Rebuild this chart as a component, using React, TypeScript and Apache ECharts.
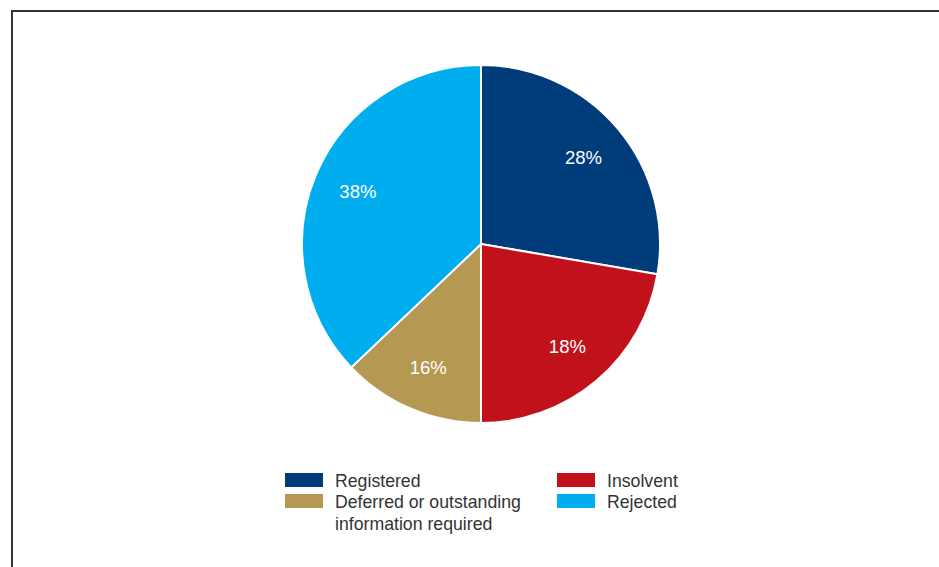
import React, { useEffect, useRef } from "react";
import * as echarts from "echarts";

const categories = ["Registered", "Insolvent", "Deferred or outstanding information required", "Rejected"];
const legendTexts = ["Registered", "Insolvent", "Deferred or outstanding\ninformation required", "Rejected"];
const sliceValues = [27.7, 22.3, 12.9, 37.1];
const labelTexts = ["28%", "18%", "16%", "38%"];
const colors = ["#003b7a", "#c1121c", "#b59953", "#00adee"];

export default function App() {
  const ref = useRef<HTMLDivElement>(null);
  useEffect(() => {
    if (!ref.current) return;
    const chart = echarts.init(ref.current, null, { renderer: "svg" });
    const font = "'Liberation Sans', Arial, sans-serif";
    const legendPos = [
      { x: 285, y: 473 },
      { x: 557, y: 473 },
      { x: 285, y: 494 },
      { x: 557, y: 494 },
    ];
    const graphic: any[] = [
      {
        type: "polyline",
        shape: { points: [[12, 580], [12, 11], [960, 11]] },
        style: { stroke: "#333", lineWidth: 2, fill: null },
      },
    ];
    categories.forEach((c, i) => {
      const p = legendPos[i];
      graphic.push({
        type: "rect",
        shape: { x: p.x, y: p.y, width: 38, height: 14 },
        style: { fill: colors[i] },
      });
      graphic.push({
        type: "text",
        x: p.x + 50,
        y: p.y - 3,
        style: {
          text: legendTexts[i],
          fill: "#333",
          font: `17.7px ${font}`,
          lineHeight: 22,
          textVerticalAlign: "top",
        },
      });
    });
    chart.setOption({
      animation: false,
      backgroundColor: "#fff",
      graphic,
      series: [
        {
          type: "pie",
          center: [481, 244],
          radius: [0, 179],
          startAngle: 90,
          clockwise: true,
          silent: true,
          label: { show: false },
          labelLine: { show: false },
          itemStyle: { borderColor: "#fff", borderWidth: 2 },
          data: categories.map((c, i) => ({
            name: c,
            value: sliceValues[i],
            itemStyle: { color: colors[i] },
          })),
        },
        {
          type: "pie",
          center: [481, 244],
          radius: [0, 262],
          startAngle: 90,
          clockwise: true,
          silent: true,
          itemStyle: { color: "transparent" },
          labelLine: { show: false },
          label: {
            show: true,
            position: "inside",
            color: "#fff",
            fontSize: 18.5,
            fontFamily: font,
            formatter: (p: any) => labelTexts[p.dataIndex],
          },
          data: categories.map((c, i) => ({ name: c + " label", value: sliceValues[i] })),
        },
      ],
    });
    return () => chart.dispose();
  }, []);
  return (
    <div
      ref={ref}
      style={{ position: "fixed", left: 0, top: 0, width: 939, height: 567 }}
    />
  );
}
